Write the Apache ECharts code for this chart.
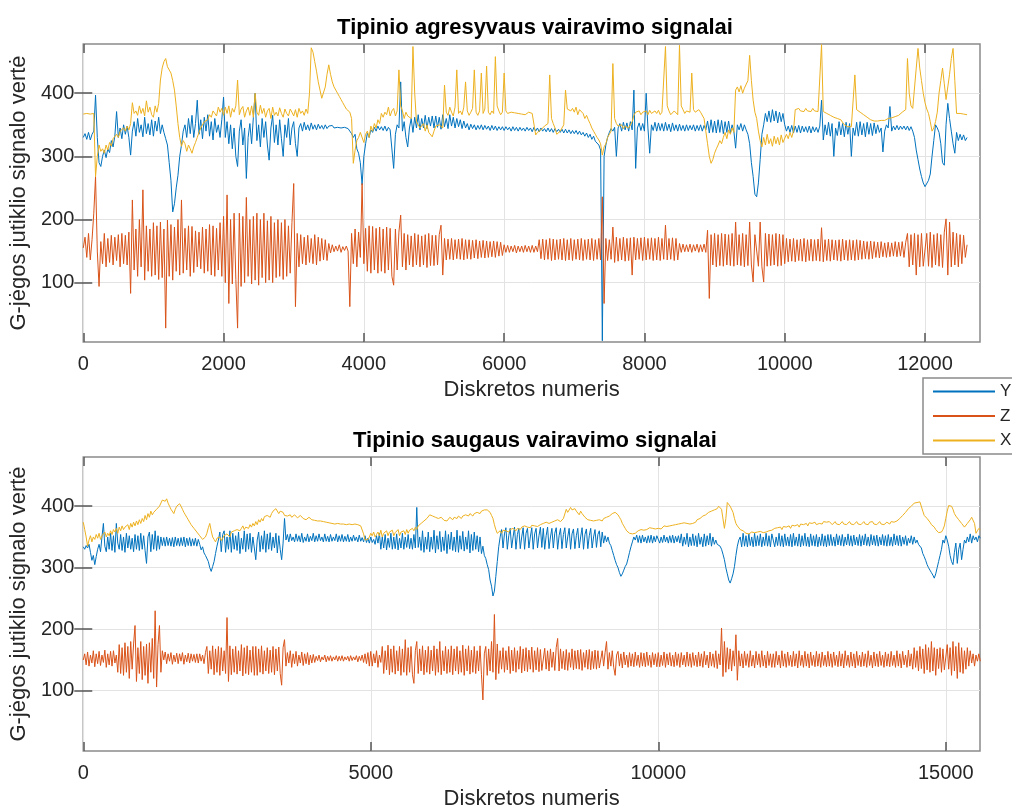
<!DOCTYPE html>
<html>
<head>
<meta charset="utf-8">
<script src="https://cdn.jsdelivr.net/npm/echarts@6/dist/echarts.min.js"></script>
<style>
html,body{margin:0;padding:0;background:#fff;}
#c{width:1012px;height:811px;}
</style>
</head>
<body>
<div id="c"></div>
<script>
// sample spacing between stored values (samples)
const STEP = 25;

// Titles / labels
const titleTop = 'Tipinio agresyvaus vairavimo signalai';
const titleBottom = 'Tipinio saugaus vairavimo signalai';
const xName = 'Diskretos numeris';
const yName = 'G-jėgos jutiklio signalo vertė';
const seriesNames = ['Y', 'Z', 'X'];

// Tick values
const topXTicks = [0, 2000, 4000, 6000, 8000, 10000, 12000];
const bottomXTicks = [0, 5000, 10000, 15000];
const yTicks = [100, 200, 300, 400];

// Top plot (aggressive driving): one value every STEP samples, one row per 1000 samples
const topY = [
330,336,327,338,326,335,340,397,330,290,284,300,310,298,312,306,325,315,332,371,330,345,328,350,335,348,330,302,340,355,332,360,338,350,331,362,336,352,334,358,
332,356,340,362,336,350,338,328,318,290,262,212,225,250,270,300,318,340,350,330,360,336,365,330,352,389,335,358,328,362,340,366,332,355,326,360,338,350,330,358,
394,330,355,320,350,312,345,300,284,340,358,318,345,265,330,352,320,362,400,325,350,315,360,330,355,318,294,345,365,322,350,318,358,328,300,350,330,360,318,345,
355,320,300,345,352,340,354,342,350,341,353,343,350,342,351,344,349,343,350,344,348,345,349,345,348,346,348,345,347,346,347,344,340,336,330,335,312,305,290,255,
300,320,337,330,342,338,346,340,348,342,347,341,348,340,346,342,345,281,335,350,345,418,340,355,330,315,345,360,338,362,345,366,342,360,345,365,344,362,348,364,
345,364,346,362,343,366,347,360,344,366,348,362,345,360,347,358,344,356,345,352,342,351,344,350,342,349,343,350,342,349,343,348,341,349,342,348,341,347,342,347,
341,347,342,346,340,347,341,346,340,346,341,345,340,346,341,345,339,346,340,345,339,345,340,344,339,345,339,344,338,344,339,343,338,343,337,343,337,342,336,341,
336,341,335,340,334,338,332,337,330,335,327,332,324,326,318,310,8,300,318,330,338,344,340,346,300,345,352,340,354,342,353,340,355,342,405,281,345,353,341,352,
340,400,345,305,350,341,354,340,353,341,352,340,354,341,351,339,353,341,350,340,351,341,349,340,350,341,349,342,350,340,349,341,350,340,349,342,356,337,358,338,
356,337,358,338,357,336,355,338,356,337,350,340,313,350,342,352,340,350,342,335,320,290,268,240,236,258,295,335,350,368,355,372,354,374,356,372,353,370,355,368,
350,340,348,338,349,337,348,338,349,337,348,339,347,338,348,337,347,339,346,338,348,389,326,350,334,354,332,352,300,345,333,355,334,352,331,354,335,352,300,345,
333,354,332,355,334,352,331,354,335,352,333,353,336,350,338,345,307,340,350,345,379,340,348,342,349,342,348,343,348,342,348,341,347,340,330,310,295,280,268,258,
252,250,262,272,300,325,350,345,338,320,290,286,350,384,360,340,320,305,338,325,335,326,334,325,330
];
const topZ = [
155,172,140,178,136,168,210,268,150,94,165,130,178,125,170,132,175,128,172,135,176,125,178,130,175,128,180,83,231,120,185,110,200,125,247,104,190,118,185,110,
195,112,190,105,196,108,185,28,199,110,192,104,188,118,200,112,231,115,186,120,190,110,189,116,182,125,180,122,188,115,185,118,192,112,190,110,186,120,195,110,
205,100,239,67,200,98,210,105,28,210,94,205,100,235,110,200,98,205,104,210,96,200,108,210,100,198,104,205,100,195,108,200,110,195,105,200,110,190,115,195,
257,62,178,125,176,130,172,128,175,132,170,130,176,128,172,134,170,136,168,135,162,147,160,149,158,150,160,148,157,151,158,150,62,178,130,185,125,180,140,257,
130,186,118,190,115,189,120,186,115,188,118,185,115,188,120,186,110,96,185,120,180,207,125,178,120,176,128,174,125,178,128,176,125,174,128,176,124,178,127,175,
127,175,128,176,191,112,170,136,169,137,170,136,168,138,169,137,170,136,168,138,168,137,167,139,168,138,166,140,167,139,166,140,165,141,166,140,165,142,164,143,
160,148,159,148,158,149,159,147,158,149,158,148,159,149,158,148,159,148,158,149,168,138,169,136,168,137,170,135,169,136,168,137,169,136,170,135,168,136,170,135,
168,137,169,136,170,135,168,137,169,136,170,135,168,137,170,136,236,67,170,135,168,137,188,132,172,134,170,136,172,134,170,135,171,112,172,136,170,137,171,135,
172,136,170,137,171,135,170,136,172,135,170,137,191,136,170,137,171,135,170,136,162,148,161,149,160,149,161,148,160,150,161,148,160,149,161,148,183,75,176,128,
178,125,176,127,178,126,177,128,176,127,178,126,196,128,176,127,178,125,176,127,196,128,101,176,178,126,196,125,101,178,126,177,127,176,128,178,126,177,127,176,
130,170,133,169,134,170,133,168,135,169,134,170,133,168,135,169,134,168,135,169,134,187,133,168,135,169,134,168,136,167,135,168,134,169,136,167,135,168,136,167,
135,168,136,167,137,166,138,165,137,166,138,165,140,164,139,165,141,163,140,164,141,163,142,165,141,164,142,165,140,164,178,125,176,128,178,112,176,125,178,126,
125,178,126,180,124,176,128,178,126,176,124,180,201,112,196,125,180,128,178,125,176,130,175,140,160
];
const topX = [
367,366,368,366,367,365,368,268,300,318,308,312,305,318,310,322,316,328,325,335,330,340,338,345,340,348,342,352,385,368,372,365,380,368,376,364,388,370,378,366,
362,380,370,384,421,440,450,455,442,445,432,420,405,380,352,330,316,325,320,308,318,312,305,315,322,330,338,345,348,355,352,358,366,362,372,368,364,378,370,376,
365,378,368,380,362,376,370,380,421,366,375,379,362,372,378,365,380,362,400,370,365,381,368,376,362,372,376,360,378,365,370,364,377,368,362,375,368,364,375,370,
364,374,362,376,368,372,365,375,368,400,472,465,450,435,418,405,392,389,410,430,445,430,418,410,405,400,395,390,385,380,375,372,370,360,289,310,325,330,338,335,
322,335,340,330,348,340,352,345,358,352,368,362,370,366,378,364,372,376,364,372,437,380,372,360,370,364,366,360,474,400,355,350,345,342,352,340,350,338,335,331,
340,348,345,350,350,345,413,370,365,378,370,364,378,437,368,372,366,378,418,372,365,370,376,437,370,365,372,432,368,375,443,370,366,372,368,458,380,372,366,370,
432,372,368,366,370,367,369,366,368,370,367,369,366,368,370,367,368,366,334,338,340,342,345,348,350,352,429,360,352,345,335,332,340,345,350,405,375,378,372,376,
370,378,366,374,372,368,360,365,358,352,345,340,335,330,326,320,302,315,320,330,330,340,447,360,352,348,346,350,344,348,350,345,344,355,365,370,368,372,366,370,
368,372,366,373,368,370,372,368,373,366,370,368,474,380,372,366,368,372,370,366,476,380,374,368,372,374,370,432,374,370,372,374,370,368,360,340,320,300,289,295,
305,312,318,325,320,330,338,328,342,335,345,338,405,410,402,412,400,408,405,420,460,420,389,370,360,340,325,315,330,318,335,320,328,316,332,320,330,318,334,322,
325,335,328,338,330,340,374,371,376,372,375,371,376,372,375,371,376,372,375,371,374,477,371,370,368,369,365,366,362,364,360,361,358,355,350,348,347,345,347,346,
429,374,372,370,368,366,364,362,360,358,357,356,355,356,355,357,358,357,359,360,362,361,364,363,366,365,368,370,372,374,455,400,380,376,378,440,471,440,420,400,
385,375,368,355,340,345,355,370,400,420,440,415,390,410,430,455,471,420,368,366,368,365,367,366,366
];

// Bottom plot (safe driving): one value every STEP samples, one row per 1000 samples
const botY = [
334,330,336,332,338,325,312,320,305,318,330,338,326,350,372,335,326,350,330,356,328,352,325,372,340,330,354,328,350,325,356,332,352,330,348,326,354,330,352,328,
356,330,352,328,307,350,358,326,354,330,360,328,352,330,350,336,349,335,350,336,348,335,349,334,350,336,348,335,349,336,350,334,348,336,349,335,347,336,348,335,
346,338,329,334,324,320,318,310,300,294,302,310,323,335,345,358,326,354,360,325,350,330,360,325,356,330,352,328,358,323,348,330,360,326,355,330,356,325,350,332,
313,345,358,326,352,330,360,325,355,330,357,328,350,332,356,324,352,330,313,340,380,345,354,342,355,344,350,342,355,343,352,342,356,341,350,343,355,342,351,344,
356,342,352,343,355,344,350,342,355,343,351,342,354,343,350,344,355,342,352,343,354,342,351,343,354,342,350,343,353,344,350,342,353,343,349,342,352,341,348,340,
350,341,346,338,352,340,356,330,350,332,354,329,348,333,356,330,350,331,355,329,348,332,356,330,350,333,354,331,348,330,354,332,398,333,350,328,360,325,350,330,
358,326,350,330,361,324,352,330,359,326,350,328,360,323,354,330,358,328,350,326,361,325,352,330,359,327,350,330,360,324,354,328,358,330,352,326,350,323,335,320,
315,305,297,280,270,254,262,286,310,334,350,362,332,355,365,330,352,364,332,350,366,330,354,364,331,350,365,330,356,364,332,350,365,330,355,364,332,352,366,333,
364,330,352,366,331,350,364,332,356,365,330,352,364,331,354,365,332,350,364,330,355,363,331,352,364,332,350,365,330,354,363,331,352,364,332,350,362,333,354,360,
334,358,340,352,342,350,340,336,328,320,312,305,300,292,286,290,296,302,306,315,325,334,342,350,345,353,341,352,340,353,342,350,340,352,341,353,340,351,342,352,
352,340,350,341,353,342,350,340,352,341,353,340,351,342,352,340,355,335,350,338,356,334,350,336,355,336,352,334,356,338,350,334,355,335,352,337,356,335,350,338,
345,338,340,335,330,322,313,300,290,280,275,282,290,302,320,335,345,350,334,356,335,352,334,355,336,350,334,356,335,352,336,355,334,350,336,356,335,352,334,355,
355,334,350,336,356,335,352,334,355,336,350,335,354,334,356,336,350,335,355,334,352,336,356,335,350,334,355,336,352,335,354,334,350,336,355,335,352,334,354,336,
354,336,350,335,355,337,352,336,354,335,350,337,355,336,352,335,353,337,350,336,354,335,352,337,355,336,350,335,354,337,352,336,353,335,350,337,354,336,352,335,
354,336,350,335,355,337,352,336,353,335,350,338,352,336,348,340,352,338,350,340,345,338,340,332,323,318,312,305,300,296,292,288,283,290,300,310,320,330,345,340,
352,345,335,320,310,305,325,340,307,330,340,313,330,345,340,350,342,355,340,352,345,350,342,352,348
];
const botZ = [
150,160,142,163,140,158,145,165,139,160,144,164,141,158,146,166,138,160,142,164,140,165,145,158,130,175,128,170,125,178,130,172,120,180,135,176,206,115,170,128,
180,118,172,125,176,112,178,130,185,120,230,106,175,206,130,165,150,163,144,160,148,162,143,158,147,161,144,160,148,162,143,158,147,161,145,160,148,159,146,160,
145,160,148,158,144,162,172,128,165,135,173,126,168,130,172,125,170,132,165,128,219,115,173,126,168,130,172,127,165,132,175,124,170,128,173,126,166,130,172,125,
172,125,168,130,173,127,165,132,170,128,166,130,172,126,168,132,171,128,109,170,183,140,162,145,165,138,160,144,164,140,158,145,163,141,160,144,162,142,158,145,
159,146,156,149,158,147,155,150,158,147,156,149,157,148,155,150,157,148,156,149,157,148,155,150,156,148,157,149,155,150,157,147,156,149,158,146,160,144,162,140,
164,140,160,145,165,138,158,146,172,128,165,134,174,126,168,130,173,127,165,132,172,125,168,130,183,125,170,130,172,126,112,165,180,128,168,132,173,126,166,130,
172,127,166,132,173,125,168,130,180,126,165,132,172,128,167,130,173,126,168,132,172,127,165,130,174,125,168,132,173,127,166,130,172,128,165,132,173,126,85,160,
172,125,168,132,180,130,224,118,176,128,165,135,170,130,165,134,172,128,166,132,170,130,165,135,172,129,168,132,170,131,166,135,171,130,165,134,170,131,167,133,
131,169,135,165,132,168,138,163,133,170,185,132,168,136,164,134,167,133,162,138,168,134,165,136,166,135,167,133,162,138,166,135,167,134,164,136,166,135,165,137,
136,165,140,162,180,135,162,140,165,138,125,158,164,140,160,137,163,142,158,138,162,140,160,139,163,141,158,138,162,140,161,139,163,141,158,138,162,142,160,139,
162,139,158,141,163,138,160,142,162,140,158,139,163,141,160,138,162,142,158,139,163,140,160,138,162,141,158,139,163,140,160,138,164,142,158,137,163,140,160,138,
165,136,160,142,202,123,180,130,170,135,168,132,165,140,191,117,165,140,160,137,164,141,160,138,165,140,158,137,164,142,160,138,165,140,158,137,164,141,160,138,
160,138,164,142,158,137,165,140,160,138,163,141,158,139,164,140,160,137,165,141,158,138,164,140,160,137,163,141,158,139,164,140,160,138,163,141,158,139,164,140,
160,138,163,141,158,139,164,140,160,137,165,141,158,138,163,140,160,137,164,141,158,139,163,140,160,138,165,141,158,137,163,140,160,139,164,141,158,138,163,140,
160,139,164,141,158,138,165,140,160,137,164,142,158,138,166,140,160,135,170,138,165,132,172,136,168,128,175,134,170,130,180,132,170,125,168,136,170,130,168,134,
132,175,135,170,125,180,132,172,120,178,130,170,128,165,135,170,140,165,145,160,140,158,148,160,148
];
const botX = [
374,362,350,335,345,352,342,350,346,354,348,356,346,352,350,358,350,356,352,360,354,362,358,364,356,366,360,368,362,366,364,370,362,372,366,374,368,376,370,378,
372,380,375,385,378,388,382,392,386,390,393,395,392,400,402,410,412,408,412,405,400,395,392,388,395,400,402,404,400,395,390,386,382,378,374,370,368,364,362,358,
356,352,350,346,345,350,356,365,372,360,350,346,342,348,345,350,344,348,352,350,355,352,350,358,356,360,358,362,364,360,364,368,362,366,368,364,370,366,372,368,
375,370,378,374,380,376,383,380,385,382,382,388,392,390,396,394,388,392,395,390,385,388,384,386,386,382,383,386,385,381,382,385,384,380,382,378,379,382,380,378,
380,377,378,376,379,376,377,375,378,374,376,373,374,372,373,371,374,372,372,371,373,371,372,370,373,371,372,370,372,371,372,370,370,368,365,355,345,342,346,350,
356,352,358,350,354,358,352,361,350,356,353,360,352,358,355,361,352,357,356,362,352,358,355,360,354,362,356,361,358,364,360,366,362,368,366,372,370,376,374,380,
382,386,388,384,386,382,384,380,378,382,380,377,380,376,378,382,380,378,382,379,380,384,382,380,384,382,386,383,384,388,386,384,388,386,390,387,388,392,390,394,
392,394,396,390,385,380,370,362,356,358,360,356,361,358,360,362,358,362,360,364,362,360,364,366,362,366,364,368,365,366,368,365,369,367,368,370,367,369,370,368,
372,370,374,371,372,375,374,372,376,374,378,376,375,378,380,382,395,390,392,398,394,392,396,392,390,386,392,388,385,382,382,378,380,377,378,376,378,377,376,378,
378,376,380,378,382,380,384,386,388,386,390,388,386,382,378,372,368,364,360,358,356,353,355,357,356,358,360,358,362,360,361,364,362,363,365,362,364,366,363,365,
364,366,363,365,368,366,367,369,368,370,369,371,370,372,371,373,372,370,373,371,372,374,371,373,372,375,374,378,376,380,382,384,383,386,388,390,388,392,390,394,
392,396,400,398,395,392,364,380,406,404,400,398,390,380,372,368,365,362,361,360,358,356,357,355,356,358,356,357,355,358,357,359,358,357,360,358,361,360,362,361,
360,364,362,365,363,366,362,367,364,366,365,368,364,369,366,368,367,370,366,371,368,370,369,372,368,373,370,372,371,374,370,373,372,374,371,375,372,374,373,375,
374,370,373,375,371,374,370,373,375,371,374,370,372,375,371,374,370,373,375,371,374,370,372,375,371,373,370,374,372,375,371,374,370,373,375,371,374,370,372,374,
374,371,375,372,374,373,376,378,380,382,385,388,390,393,396,398,400,403,405,408,406,409,407,410,392,385,382,380,378,374,370,368,366,362,360,357,356,358,362,368,
380,392,401,398,400,395,388,384,382,378,376,372,370,366,368,372,375,378,382,385,372,356,360,364,362
];

const COLORS = ['#0072BD', '#D95319', '#EDB120'];
const FONT = '"Liberation Sans", Arial, Helvetica, sans-serif';
const TXT = '#262626';
const BOX = '#8a8a8a';
const GRIDC = '#e3e3e3';
const TICKC = '#555555';

function pts(arr) { return arr.map((v, i) => [i * STEP, v]); }
function plain(v) { return String(Math.round(v)); }

function mainX(grid, max, ticks) {
  return {
    type: 'value', gridIndex: grid, min: 0, max: max, position: 'bottom',
    name: xName, nameLocation: 'middle', nameGap: 37,
    nameTextStyle: { fontFamily: FONT, fontSize: 22, color: TXT },
    axisLine: { show: false },
    axisTick: { show: true, inside: true, length: 9, customValues: ticks, lineStyle: { color: TICKC, width: 1.5 } },
    axisLabel: { show: true, customValues: ticks, formatter: plain, margin: 12, fontFamily: FONT, fontSize: 20, color: TXT },
    splitLine: { show: true, lineStyle: { color: GRIDC, width: 1 } }
  };
}
function mirrorX(grid, max, ticks) {
  return {
    type: 'value', gridIndex: grid, min: 0, max: max, position: 'top',
    axisLine: { show: false },
    axisTick: { show: true, inside: true, length: 9, customValues: ticks, lineStyle: { color: TICKC, width: 1.5 } },
    axisLabel: { show: false },
    splitLine: { show: false }
  };
}
function mainY(grid, min, max) {
  return {
    type: 'value', gridIndex: grid, min: min, max: max, position: 'left',
    name: yName, nameLocation: 'middle', nameGap: 50, nameRotate: 90,
    nameTextStyle: { fontFamily: FONT, fontSize: 22, color: TXT },
    axisLine: { show: false },
    axisTick: { show: true, inside: true, length: 9, customValues: yTicks, lineStyle: { color: TICKC, width: 1.5 } },
    axisLabel: { show: true, customValues: yTicks, formatter: plain, margin: 9, fontFamily: FONT, fontSize: 20, color: TXT },
    splitLine: { show: true, lineStyle: { color: GRIDC, width: 1 } }
  };
}
function mirrorY(grid, min, max) {
  return {
    type: 'value', gridIndex: grid, min: min, max: max, position: 'right',
    axisLine: { show: false },
    axisTick: { show: true, inside: true, length: 9, customValues: yTicks, lineStyle: { color: TICKC, width: 1.5 } },
    axisLabel: { show: false },
    splitLine: { show: false }
  };
}
function line(name, data, xi, yi, color) {
  return {
    type: 'line', name: name, data: pts(data), xAxisIndex: xi, yAxisIndex: yi,
    showSymbol: false, symbol: 'none', color: color, sampling: null,
    lineStyle: { color: color, width: 1 }, clip: true, silent: true
  };
}

const chart = echarts.init(document.getElementById('c'), null, { renderer: 'canvas' });
chart.setOption({
  animation: false,
  backgroundColor: '#ffffff',
  title: [
    { text: titleTop, left: 530, top: 12, textAlign: 'center',
      textStyle: { fontFamily: FONT, fontSize: 22, fontWeight: 'bold', color: '#000' } },
    { text: titleBottom, left: 530, top: 425, textAlign: 'center',
      textStyle: { fontFamily: FONT, fontSize: 22, fontWeight: 'bold', color: '#000' } }
  ],
  legend: {
    orient: 'vertical', left: 923, top: 378,
    padding: [5, 10, 5, 10], itemGap: 7.5, itemWidth: 62, itemHeight: 2,
    icon: 'rect', backgroundColor: '#fff', borderColor: BOX, borderWidth: 1.5,
    textStyle: { fontFamily: FONT, fontSize: 17, color: TXT },
    data: seriesNames, z: 10
  },
  grid: [
    { left: 80, top: 44, width: 900, height: 298, show: true, borderColor: BOX, borderWidth: 1.5, backgroundColor: '#fff' },
    { left: 80, top: 457, width: 900, height: 298, show: true, borderColor: BOX, borderWidth: 1.5, backgroundColor: '#fff' }
  ],
  xAxis: [
    mainX(0, 12784, topXTicks), mirrorX(0, 12784, topXTicks),
    mainX(1, 15595, bottomXTicks), mirrorX(1, 15595, bottomXTicks)
  ],
  yAxis: [
    mainY(0, 6, 478), mirrorY(0, 6, 478),
    mainY(1, 2, 480), mirrorY(1, 2, 480)
  ],
  series: [
    line('Y', topY, 0, 0, COLORS[0]),
    line('Z', topZ, 0, 0, COLORS[1]),
    line('X', topX, 0, 0, COLORS[2]),
    line('Y', botY, 2, 2, COLORS[0]),
    line('Z', botZ, 2, 2, COLORS[1]),
    line('X', botX, 2, 2, COLORS[2])
  ]
});
</script>
</body>
</html>
